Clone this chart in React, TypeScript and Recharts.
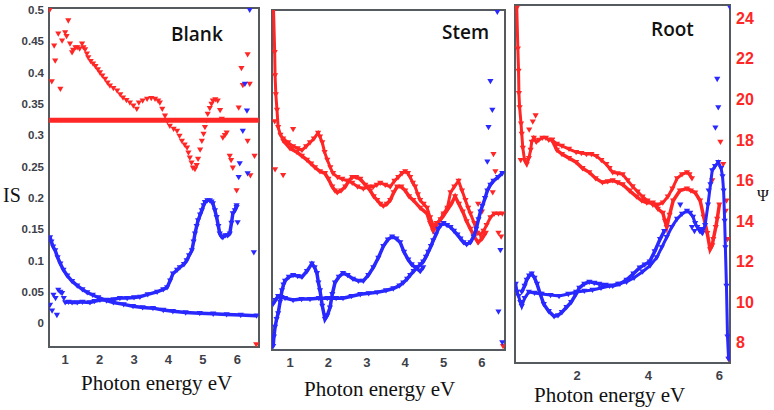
import React from 'react';
import {
  ComposedChart,
  Scatter,
  XAxis,
  YAxis,
  ReferenceArea,
} from 'recharts';

type Pt = [number, number];

const RED = '#ff2626';
const BLUE = '#2828ff';
const FRAME = '#555a5e';

// ---------- Blank panel (IS axis) ----------
const blankTicksX = [1, 2, 3, 4, 5, 6];
const blankTicksY = [0, 0.05, 0.1, 0.15, 0.2, 0.25, 0.3, 0.35, 0.4, 0.45, 0.5];

const blankRed: Pt[] = [
  [0.55, 0.5], [0.61, 0.386], [0.68, 0.443], [0.71, 0.419], [0.8, 0.462], [0.86, 0.374],
  [0.91, 0.451], [1.0, 0.464], [1.04, 0.458], [1.09, 0.483], [1.14, 0.446], [1.2, 0.432],
  [1.23, 0.436], [1.3, 0.44], [1.35, 0.44], [1.42, 0.438], [1.49, 0.446], [1.53, 0.44],
  [1.58, 0.437], [1.63, 0.43], [1.67, 0.424], [1.74, 0.418], [1.81, 0.414], [1.88, 0.41],
  [1.95, 0.405], [2.01, 0.4], [2.08, 0.395], [2.16, 0.39], [2.23, 0.384], [2.3, 0.379],
  [2.4, 0.375], [2.51, 0.371], [2.6, 0.365], [2.68, 0.36], [2.78, 0.356], [2.88, 0.352],
  [2.98, 0.347], [3.08, 0.342], [3.14, 0.352], [3.25, 0.355], [3.38, 0.358], [3.5, 0.359],
  [3.61, 0.358], [3.7, 0.355], [3.75, 0.352], [3.82, 0.342], [3.9, 0.331], [3.97, 0.322],
  [4.04, 0.315], [4.15, 0.31], [4.25, 0.307], [4.32, 0.299], [4.39, 0.291], [4.47, 0.285],
  [4.54, 0.28], [4.58, 0.272], [4.62, 0.264], [4.67, 0.256], [4.71, 0.248], [4.77, 0.246],
  [4.82, 0.252], [4.86, 0.262], [4.92, 0.277], [4.97, 0.291], [5.02, 0.302], [5.06, 0.313],
  [5.1, 0.324], [5.14, 0.334], [5.2, 0.343], [5.25, 0.35], [5.29, 0.355], [5.36, 0.357],
  [5.43, 0.355], [5.5, 0.34], [5.55, 0.326], [5.58, 0.296], [5.64, 0.3], [5.69, 0.304],
  [5.78, 0.267], [5.82, 0.26], [5.87, 0.248], [5.98, 0.212], [6.04, 0.344], [6.12, 0.407],
  [6.16, 0.38], [6.3, 0.429], [6.3, 0.291], [6.36, 0.382], [6.38, 0.236], [6.5, 0.267],
  [6.55, -0.034],
];
const blankRedFlat: Pt[] = [[0.53, 0.324], [6.63, 0.324]];

const blankBlueDecay: Pt[] = [
  [0.56, 0.137], [0.6, 0.13], [0.65, 0.122], [0.71, 0.116], [0.78, 0.105], [0.86, 0.095],
  [0.95, 0.085], [1.06, 0.076], [1.2, 0.067], [1.35, 0.06], [1.5, 0.054], [1.64, 0.049],
  [1.8, 0.045], [1.96, 0.041], [2.2, 0.036], [2.4, 0.033], [2.7, 0.03], [2.97, 0.027],
  [3.25, 0.025], [3.55, 0.024], [3.85, 0.021], [4.13, 0.019], [4.5, 0.017], [4.91, 0.016],
  [5.3, 0.015], [5.69, 0.014], [6.1, 0.013], [6.56, 0.012],
];
const blankBlueRise: Pt[] = [
  [1.0, 0.033], [1.1, 0.034], [1.2, 0.033], [1.35, 0.033], [1.5, 0.034], [1.72, 0.033],
  [1.85, 0.035], [2.01, 0.037], [2.2, 0.037], [2.4, 0.038], [2.59, 0.04], [2.8, 0.04],
  [3.0, 0.041], [3.17, 0.042], [3.4, 0.046], [3.67, 0.05], [3.85, 0.054], [3.96, 0.057],
  [4.05, 0.068], [4.13, 0.079], [4.25, 0.085], [4.33, 0.089], [4.45, 0.094], [4.53, 0.1],
  [4.6, 0.108], [4.68, 0.116], [4.73, 0.13], [4.77, 0.143], [4.82, 0.155], [4.86, 0.164],
  [4.92, 0.173], [4.97, 0.18], [5.02, 0.188], [5.06, 0.193], [5.13, 0.196], [5.2, 0.196],
  [5.25, 0.194], [5.29, 0.191], [5.35, 0.18], [5.4, 0.169], [5.45, 0.155], [5.49, 0.143],
  [5.54, 0.138], [5.58, 0.137], [5.65, 0.14], [5.72, 0.14], [5.78, 0.143], [5.83, 0.16],
  [5.87, 0.175], [5.93, 0.18], [5.98, 0.188],
];
const blankBlueLoose: Pt[] = [
  [0.56, 0.029], [0.62, 0.02], [0.66, 0.045], [0.72, 0.04], [0.76, 0.013], [0.8, 0.053],
  [0.86, 0.05], [0.91, 0.048], [0.96, 0.04], [6.01, 0.161], [6.36, 0.5], [6.22, 0.382],
  [6.28, 0.339], [6.16, 0.307], [6.07, 0.255], [6.04, 0.233], [5.98, 0.185], [6.3, 0.239],
  [6.48, 0.113],
];

// ---------- Stem panel (no printed y scale) ----------
const stemTicksX = [1, 2, 3, 4, 5, 6];

const stemRedA: Pt[] = [
  [0.57, 24.7], [0.6, 22.5], [0.61, 21.3], [0.63, 20.3], [0.66, 19.5], [0.69, 18.6],
  [0.75, 18.2], [0.82, 18.0], [0.95, 17.8], [1.08, 17.6], [1.2, 17.5], [1.31, 17.4],
  [1.42, 17.6], [1.52, 17.8], [1.62, 18.0], [1.73, 18.3], [1.78, 18.1], [1.84, 17.8],
  [1.9, 17.3], [1.97, 16.9], [2.05, 16.5], [2.12, 16.2], [2.24, 16.0], [2.36, 15.9],
  [2.5, 15.8], [2.62, 15.7], [2.76, 15.5], [2.91, 15.4], [3.05, 15.5], [3.17, 15.5],
  [3.26, 15.6], [3.35, 15.7], [3.48, 15.6], [3.61, 15.5], [3.72, 15.8], [3.82, 16.0],
  [3.92, 16.2], [4.0, 16.3], [4.07, 16.2], [4.13, 16.0], [4.2, 15.7], [4.26, 15.5],
  [4.33, 15.1], [4.39, 14.8], [4.48, 14.6], [4.57, 14.4], [4.65, 13.9], [4.73, 13.5],
  [4.82, 13.6], [4.92, 13.8], [5.0, 14.1], [5.1, 14.4], [5.18, 15.2], [5.28, 15.5],
  [5.39, 15.8], [5.48, 15.3], [5.57, 14.8], [5.64, 14.4], [5.7, 14.1], [5.8, 13.6],
  [5.88, 13.1], [5.96, 13.0], [6.04, 13.2], [6.12, 13.5], [6.22, 13.9], [6.32, 14.1],
  [6.43, 14.1], [6.53, 14.1],
];
const stemRedB: Pt[] = [
  [0.82, 17.9], [1.0, 17.5], [1.18, 17.3], [1.31, 17.1], [1.44, 16.9], [1.55, 16.7],
  [1.65, 16.5], [1.78, 16.3], [1.91, 16.2], [2.0, 15.9], [2.1, 15.5], [2.17, 15.3],
  [2.23, 15.2], [2.33, 15.3], [2.44, 15.5], [2.53, 15.8], [2.62, 16.0], [2.72, 16.0],
  [2.83, 15.9], [2.96, 15.6], [3.09, 15.3], [3.18, 15.0], [3.27, 14.8], [3.35, 14.6],
  [3.43, 14.5], [3.52, 14.6], [3.61, 14.8], [3.7, 15.2], [3.79, 15.5], [3.9, 15.5],
  [4.0, 15.3], [4.1, 15.0], [4.21, 14.8], [4.39, 14.4], [4.57, 14.1], [4.65, 13.6],
  [4.73, 13.2], [4.85, 13.6], [5.0, 14.0], [5.1, 14.3], [5.2, 14.6], [5.3, 15.0],
  [5.4, 14.6], [5.5, 14.2], [5.6, 13.7], [5.7, 13.3], [5.8, 12.9], [5.9, 12.6],
  [6.0, 12.8], [6.1, 13.1],
];
const stemRedLoose: Pt[] = [
  [0.61, 16.4], [0.82, 16.1], [1.08, 18.5], [0.6, 18.9], [6.3, 17.2], [6.35, 16.3],
  [6.28, 15.2], [5.9, 14.6], [6.0, 14.2], [6.5, 12.9], [6.43, 13.1], [6.55, 7.2],
];
const stemBlueA: Pt[] = [
  [0.56, 9.4], [0.62, 9.6], [0.69, 9.8], [0.78, 9.75], [0.87, 9.7], [1.08, 9.6],
  [1.3, 9.65], [1.52, 9.65], [1.75, 9.7], [1.97, 9.7], [2.2, 9.7], [2.38, 9.7],
  [2.6, 9.8], [2.83, 9.9], [3.05, 9.95], [3.27, 10.0], [3.5, 10.1], [3.69, 10.2],
  [3.85, 10.35], [3.95, 10.5], [4.05, 10.7], [4.13, 10.9], [4.22, 11.1], [4.31, 11.3],
  [4.4, 11.45], [4.47, 11.6], [4.54, 11.85], [4.6, 12.1], [4.67, 12.4], [4.73, 12.7],
  [4.8, 13.0], [4.86, 13.3], [4.93, 13.5], [5.0, 13.6], [5.09, 13.5], [5.18, 13.4],
  [5.27, 13.2], [5.36, 13.0], [5.44, 12.8], [5.52, 12.6], [5.6, 12.5], [5.7, 12.6],
  [5.78, 12.9], [5.85, 13.3], [5.91, 13.8], [5.96, 14.2], [6.01, 14.5], [6.08, 14.9],
  [6.14, 15.3], [6.22, 15.6], [6.3, 15.8], [6.42, 16.0], [6.53, 16.2],
];
const stemBlueB: Pt[] = [
  [0.56, 7.2], [0.58, 7.7], [0.61, 8.2], [0.65, 8.6], [0.69, 8.9], [0.74, 9.5],
  [0.79, 10.1], [0.83, 10.4], [0.87, 10.6], [0.97, 10.8], [1.08, 10.9], [1.2, 10.85],
  [1.31, 10.8], [1.44, 11.1], [1.57, 11.5], [1.64, 11.3], [1.7, 11.0], [1.74, 10.5],
  [1.78, 10.1], [1.84, 9.3], [1.91, 8.6], [1.97, 8.8], [2.04, 9.2], [2.1, 9.9],
  [2.17, 10.5], [2.27, 10.8], [2.38, 11.0], [2.5, 10.9], [2.64, 10.7], [2.78, 10.6],
  [2.91, 10.6], [3.04, 10.9], [3.17, 11.3], [3.3, 11.8], [3.43, 12.4], [3.55, 12.75],
  [3.66, 12.9], [3.77, 12.8], [3.87, 12.6], [3.97, 12.1], [4.08, 11.7], [4.17, 11.45],
  [4.26, 11.3], [4.39, 11.1], [4.47, 11.3],
];
const stemBlueLoose: Pt[] = [
  [6.4, 24.6], [6.22, 21.0], [6.27, 19.5], [6.17, 18.6], [6.14, 16.8], [6.48, 12.2],
  [6.43, 9.0], [6.53, 7.4],
];

// ---------- Root panel (Ψ axis, right) ----------
const rootTicksX = [2, 4, 6];
const rootTicksY = [8, 10, 12, 14, 16, 18, 20, 22, 24];

const rootRedA: Pt[] = [
  [0.3, 24.5], [0.33, 22.5], [0.35, 21.4], [0.36, 20.3], [0.38, 19.6], [0.42, 18.8],
  [0.44, 18.3], [0.47, 17.6], [0.52, 17.0], [0.58, 16.8], [0.64, 17.1], [0.69, 17.5],
  [0.72, 17.9], [0.78, 18.1], [0.85, 17.9], [0.92, 18.0], [1.02, 18.1], [1.12, 18.1],
  [1.2, 18.0], [1.29, 18.0], [1.43, 17.8], [1.57, 17.7], [1.77, 17.55], [1.97, 17.4],
  [2.12, 17.35], [2.26, 17.3], [2.4, 17.3], [2.54, 17.2], [2.68, 17.0], [2.82, 16.8],
  [2.91, 16.6], [3.0, 16.4], [3.14, 16.35], [3.28, 16.3], [3.42, 16.0], [3.56, 15.7],
  [3.7, 15.45], [3.84, 15.2], [3.98, 15.0], [4.13, 14.8], [4.27, 14.8], [4.41, 14.9],
  [4.55, 15.2], [4.68, 15.6], [4.81, 16.1], [4.95, 16.3], [5.09, 16.4], [5.16, 16.3],
  [5.23, 16.1],
];
const rootRedB: Pt[] = [
  [1.29, 18.0], [1.43, 17.5], [1.57, 17.3], [1.77, 17.1], [1.97, 16.9], [2.15, 16.6],
  [2.34, 16.4], [2.52, 16.1], [2.71, 15.9], [2.86, 15.95], [3.0, 16.0], [3.14, 15.9],
  [3.28, 15.8], [3.47, 15.5], [3.67, 15.2], [3.82, 15.0], [3.96, 14.9], [4.13, 14.9],
  [4.27, 14.6], [4.41, 14.4], [4.47, 14.0], [4.52, 13.7], [4.6, 14.3], [4.7, 15.0],
  [4.89, 15.5], [5.09, 15.6], [5.2, 15.5], [5.32, 15.4], [5.46, 15.0], [5.56, 14.2],
  [5.66, 13.4], [5.74, 12.6], [5.8, 12.8], [5.83, 13.1], [5.9, 13.7], [5.94, 14.1],
  [6.0, 14.8],
];
const rootRedLoose: Pt[] = [
  [0.83, 19.2], [0.41, 17.0], [0.65, 18.5], [0.75, 18.9], [6.03, 17.9], [6.11, 16.8],
  [5.8, 16.0], [6.23, 13.1], [6.2, 15.0], [6.18, 14.5], [6.26, 7.2],
];
const rootBlueA: Pt[] = [
  [0.27, 10.9], [0.31, 10.5], [0.35, 10.3], [0.4, 10.0], [0.44, 9.8], [0.52, 10.2],
  [0.64, 10.5], [0.8, 10.45], [1.0, 10.4], [1.25, 10.35], [1.49, 10.3], [1.75, 10.4],
  [1.97, 10.5], [2.2, 10.55], [2.43, 10.6], [2.67, 10.7], [2.91, 10.8], [3.15, 10.9],
  [3.39, 11.0], [3.6, 11.2], [3.84, 11.5], [4.05, 11.8], [4.24, 12.2], [4.38, 12.7],
  [4.52, 13.2], [4.66, 13.7], [4.81, 14.1], [4.95, 14.35], [5.09, 14.5], [5.18, 14.4],
  [5.26, 14.2], [5.32, 13.9], [5.38, 13.7], [5.45, 13.5], [5.52, 13.4], [5.6, 13.8],
  [5.68, 14.8], [5.75, 15.8], [5.8, 16.5], [5.88, 16.7], [5.97, 16.9], [6.05, 16.6],
  [6.09, 16.2], [6.12, 15.5], [6.15, 14.0], [6.17, 12.7], [6.2, 10.8], [6.23, 8.3],
  [6.26, 7.2],
];
const rootBlueB: Pt[] = [
  [0.44, 10.5], [0.52, 10.8], [0.58, 11.1], [0.65, 11.3], [0.72, 11.4], [0.8, 11.2],
  [0.87, 10.9], [0.96, 10.4], [1.06, 9.9], [1.2, 9.55], [1.35, 9.3], [1.46, 9.35],
  [1.57, 9.5], [1.7, 9.75], [1.83, 10.0], [1.95, 10.35], [2.06, 10.7], [2.2, 10.9],
  [2.34, 11.0], [2.48, 10.95], [2.62, 10.9], [2.8, 10.85], [3.0, 10.8], [3.2, 10.9],
  [3.39, 11.1], [3.58, 11.4], [3.76, 11.7], [3.9, 11.85], [4.04, 12.0], [4.18, 12.5],
  [4.33, 13.1], [4.45, 13.5],
];
const rootBlueLoose: Pt[] = [
  [6.31, 24.5], [5.94, 21.0], [5.97, 19.6], [5.89, 18.6], [5.23, 13.7], [5.3, 13.5],
  [4.9, 14.8], [5.5, 13.6], [5.7, 15.5],
];

const toXY = (pts: Pt[]) => pts.map(([x, y]) => ({ x, y }));

// small downward triangle marker
const tri = (color: string, s = 3.1) => (props: any) => {
  const { cx, cy } = props;
  if (cx == null || cy == null) return <g />;
  return (
    <path
      d={`M${cx - s},${cy - s * 0.7} L${cx + s},${cy - s * 0.7} L${cx},${cy + s} Z`}
      fill={color}
    />
  );
};
const noDot = () => <g />;

const tickFont = {
  fill: '#3d4048',
  fontSize: 13,
  fontWeight: 700,
  fontFamily: '"Liberation Sans", Arial, sans-serif',
};

const serif = '"Liberation Serif", "DejaVu Serif", serif';
const titleFont = '"Open Sans", "Noto Sans", sans-serif';

export default function App() {
  const txt = (s: React.CSSProperties): React.CSSProperties => ({ position: 'absolute', whiteSpace: 'nowrap', ...s });
  return (
    <div style={{ position: 'absolute', left: 0, top: 0, width: 774, height: 410, background: '#fff' }}>
      {/* Blank */}
      <div style={{ position: 'absolute', left: 0, top: 0 }}>
        <ComposedChart width={262} height={410} margin={{ top: 8, right: 3, bottom: 38, left: 0 }}>
          <XAxis
            type="number"
            dataKey="x"
            domain={[0.53, 6.63]}
            ticks={blankTicksX}
            allowDataOverflow
            axisLine={false}
            tickLine={false}
            height={25}
            tick={tickFont}
          />
          <YAxis
            type="number"
            dataKey="y"
            domain={[-0.038, 0.503]}
            ticks={blankTicksY}
            allowDataOverflow
            axisLine={false}
            tickLine={false}
            tickSize={0}
            tickMargin={5}
            width={49}
            tick={{ ...tickFont, fontSize: 11.5 }}
          />
          <Scatter data={toXY(blankRedFlat)} shape={noDot} line={{ stroke: RED, strokeWidth: 5 }} isAnimationActive={false} />
          <Scatter data={toXY(blankRed)} shape={tri(RED)} isAnimationActive={false} />
          <Scatter data={toXY(blankBlueDecay)} shape={tri(BLUE)} line={{ stroke: BLUE, strokeWidth: 3.5 }} isAnimationActive={false} />
          <Scatter data={toXY(blankBlueRise)} shape={tri(BLUE)} line={{ stroke: BLUE, strokeWidth: 3.5 }} isAnimationActive={false} />
          <Scatter data={toXY(blankBlueLoose)} shape={tri(BLUE)} isAnimationActive={false} />
          <ReferenceArea x1={0.53} x2={6.63} y1={-0.038} y2={0.503} fill="none" stroke={FRAME} strokeWidth={2} />
        </ComposedChart>
      </div>

      {/* Stem */}
      <div style={{ position: 'absolute', left: 266, top: 0 }}>
        <ComposedChart width={242} height={410} margin={{ top: 10, right: 3, bottom: 35, left: 6 }}>
          <XAxis
            type="number"
            dataKey="x"
            domain={[0.53, 6.6]}
            ticks={stemTicksX}
            allowDataOverflow
            axisLine={false}
            tickLine={false}
            height={25}
            tick={tickFont}
          />
          <YAxis type="number" dataKey="y" domain={[7, 24.7]} allowDataOverflow hide />
          <Scatter data={toXY(stemRedB)} shape={tri(RED)} line={{ stroke: RED, strokeWidth: 3.5 }} isAnimationActive={false} />
          <Scatter data={toXY(stemRedA)} shape={tri(RED)} line={{ stroke: RED, strokeWidth: 3 }} isAnimationActive={false} />
          <Scatter data={toXY(stemRedLoose)} shape={tri(RED)} isAnimationActive={false} />
          <Scatter data={toXY(stemBlueB)} shape={tri(BLUE)} line={{ stroke: BLUE, strokeWidth: 3.5 }} isAnimationActive={false} />
          <Scatter data={toXY(stemBlueA)} shape={tri(BLUE)} line={{ stroke: BLUE, strokeWidth: 3.5 }} isAnimationActive={false} />
          <Scatter data={toXY(stemBlueLoose)} shape={tri(BLUE)} isAnimationActive={false} />
          <ReferenceArea x1={0.53} x2={6.6} y1={7} y2={24.7} fill="none" stroke={FRAME} strokeWidth={2} />
        </ComposedChart>
      </div>

      {/* Root */}
      <div style={{ position: 'absolute', left: 509, top: 0 }}>
        <ComposedChart width={265} height={410} margin={{ top: 5, right: 4, bottom: 25, left: 6 }}>
          <XAxis
            type="number"
            dataKey="x"
            domain={[0.25, 6.3]}
            ticks={rootTicksX}
            allowDataOverflow
            axisLine={false}
            tickLine={false}
            height={22}
            tick={tickFont}
          />
          <YAxis
            type="number"
            dataKey="y"
            orientation="right"
            domain={[7, 24.65]}
            ticks={rootTicksY}
            allowDataOverflow
            axisLine={false}
            tickLine={false}
            tickSize={0}
            tickMargin={6}
            width={40}
            tick={{ ...tickFont, fill: RED, fontSize: 16 }}
          />
          <Scatter data={toXY(rootRedB)} shape={tri(RED)} line={{ stroke: RED, strokeWidth: 3.5 }} isAnimationActive={false} />
          <Scatter data={toXY(rootRedA)} shape={tri(RED)} line={{ stroke: RED, strokeWidth: 3 }} isAnimationActive={false} />
          <Scatter data={toXY(rootRedLoose)} shape={tri(RED)} isAnimationActive={false} />
          <Scatter data={toXY(rootBlueB)} shape={tri(BLUE)} line={{ stroke: BLUE, strokeWidth: 3.5 }} isAnimationActive={false} />
          <Scatter data={toXY(rootBlueA)} shape={tri(BLUE)} line={{ stroke: BLUE, strokeWidth: 3 }} isAnimationActive={false} />
          <Scatter data={toXY(rootBlueLoose)} shape={tri(BLUE)} isAnimationActive={false} />
          <ReferenceArea x1={0.25} x2={6.3} y1={7} y2={24.65} fill="none" stroke={FRAME} strokeWidth={2} />
        </ComposedChart>
      </div>

      {/* titles and axis labels */}
      <div style={txt({ left: 171, top: 21, fontFamily: titleFont, fontWeight: 600, fontSize: 19, color: '#111' })}>Blank</div>
      <div style={txt({ left: 442, top: 19, fontFamily: titleFont, fontWeight: 600, fontSize: 19, color: '#111' })}>Stem</div>
      <div style={txt({ left: 651, top: 16, fontFamily: titleFont, fontWeight: 600, fontSize: 19, color: '#111' })}>Root</div>

      <div style={txt({ left: 3, top: 184, fontFamily: serif, fontSize: 20, color: '#111' })}>IS</div>
      <div style={txt({ left: 757, top: 187, fontFamily: serif, fontSize: 16, color: '#111' })}>Ψ</div>

      <div style={txt({ left: 81, top: 371, fontFamily: serif, fontSize: 21, color: '#111' })}>Photon energy eV</div>
      <div style={txt({ left: 304, top: 377, fontFamily: serif, fontSize: 21, color: '#111' })}>Photon energy eV</div>
      <div style={txt({ left: 534, top: 383, fontFamily: serif, fontSize: 21, color: '#111' })}>Photon energy eV</div>
    </div>
  );
}
